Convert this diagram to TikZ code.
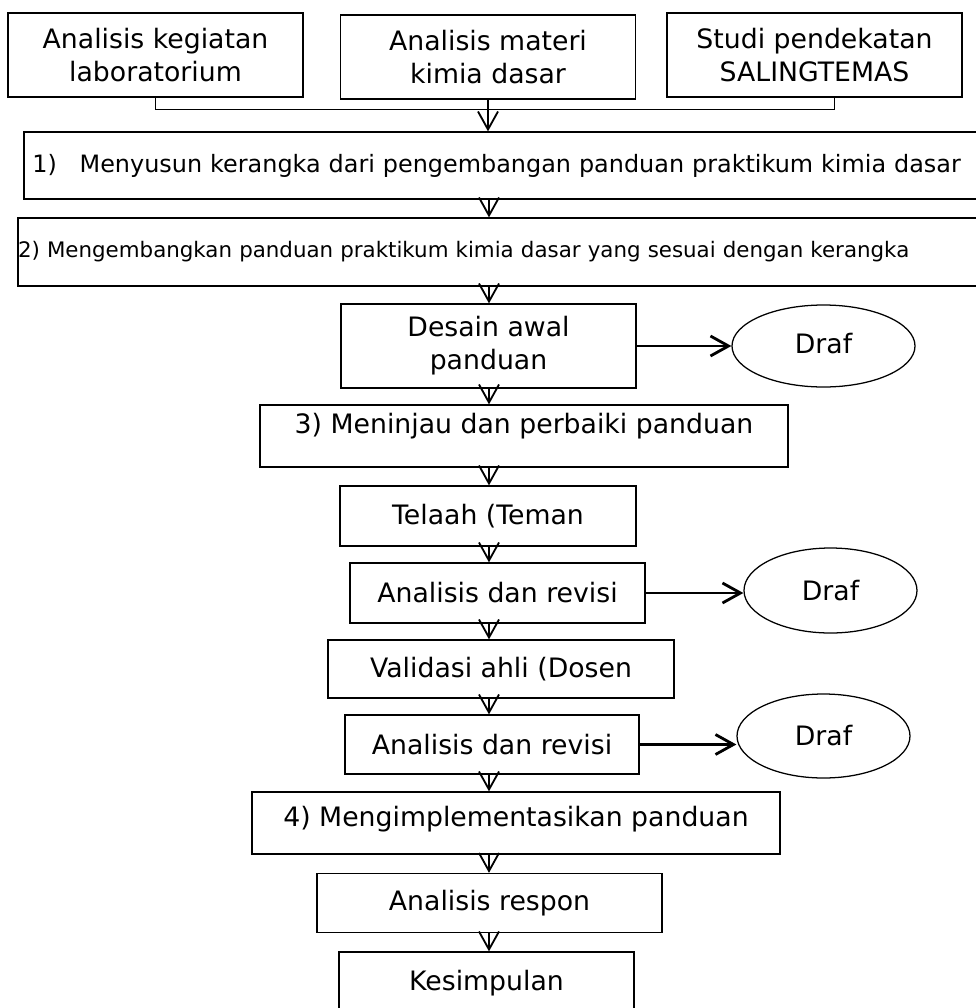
\documentclass[tikz,border=0pt]{standalone}
\usepackage{fontspec}
\setmainfont{DejaVu Sans}
\usetikzlibrary{shapes.geometric,arrows.meta}

\begin{document}
\begin{tikzpicture}[node distance=2cm]

% definitions
\tikzstyle{prep} = [rectangle, minimum width=7.375cm, minimum height=2.1cm, text centered, align=center, draw=black, line width=0.9pt, font=\fontsize{19}{23.4}\selectfont]

\tikzstyle{stage} = [rectangle, minimum width=7.375cm, minimum height=1.5cm, text centered, draw=black, line width=0.9pt, font=\fontsize{19}{23.4}\selectfont]

\tikzstyle{phase} = [rectangle, minimum width=13.2cm, minimum height=1.55cm, inner ysep=0pt, text centered, draw=black, line width=0.9pt, font=\fontsize{19}{23.4}\selectfont]

\tikzstyle{task} = [rectangle, minimum width=24.25cm, text width=23.825cm, minimum height=1.675cm, inner xsep=0.2125cm, align=left, draw=black, line width=0.9pt]

\tikzstyle{draft} = [ellipse, minimum width=4.325cm, minimum height=2.1cm, inner sep=0pt, draw=black, line width=0.9pt, font=\fontsize{19}{23.4}\selectfont]

\tikzstyle{arrow} = [-{Straight Barb[length=0.45cm, width=0.5cm]}, line width=1.3pt]

\tikzstyle{thick arrow} = [arrow, line width=2pt]

\tikzstyle{line} = [line width=0.8pt]

\useasboundingbox (0,0) rectangle (24.4,-25.2);
\clip (0,0) rectangle (24.4,-25.2);

% the graph
\node (a2) [prep] at (12.2,-1.425) {Analisis materi\\kimia dasar};

\node (a1) [prep, left of=a2, xshift=-6.3125cm, yshift=0.05cm] {Analisis kegiatan\\laboratorium};

\node (a3) [prep, right of=a2, xshift=6.1625cm, yshift=0.05cm] {Studi pendekatan\\SALINGTEMAS};

\coordinate (join) at ([yshift=-0.25cm]a2.south);

\node (s1) [task, below of=a2, yshift=-0.7125cm, xshift=0.525cm, font=\fontsize{17}{20}\selectfont] {\makebox[1.18cm][l]{1)}Menyusun kerangka dari pengembangan panduan praktikum kimia dasar};

\node (s2) [task, below of=s1, yshift=-0.1625cm, xshift=-0.075cm, minimum width=24.4cm, text width=24.4cm, inner xsep=0pt, minimum height=1.7cm, font=\fontsize{15.2}{18}\selectfont] {2) Mengembangkan panduan praktikum kimia dasar yang sesuai dengan kerangka};

\node (d1) [prep, below of=s2, yshift=-0.35cm, xshift=-0.4375cm] {Desain awal\\panduan};

\node (e1) [draft, right of=d1, xshift=6.375cm, minimum width=4.575cm, minimum height=2.05cm, text height=0.65cm, text depth=0.3cm] {Draf};

\node (s3) [phase, below of=d1, yshift=-0.25cm, xshift=0.8875cm, text height=0.7cm, text depth=0.85cm] {3) Meninjau dan perbaiki panduan};

\node (t1) [stage, below of=s3, xshift=-0.9cm, minimum width=7.4cm] {Telaah (Teman};

\node (r1) [stage, below of=t1, yshift=0.075cm, xshift=0.2375cm] {Analisis dan revisi};

\node (e2) [draft, right of=r1, xshift=6.325cm, yshift=0.0625cm, minimum height=2.125cm] {Draf};

\node (v1) [stage, below of=r1, yshift=0.1cm, xshift=0.0875cm, minimum width=8.65cm, minimum height=1.45cm] {Validasi ahli (Dosen};

\node (r2) [stage, below of=v1, yshift=0.1125cm, xshift=-0.225cm, minimum width=7.35cm, minimum height=1.475cm] {Analisis dan revisi};

\node (e3) [draft, right of=r2, xshift=6.2875cm, yshift=0.2125cm] {Draf};

\node (s4) [phase, below of=r2, yshift=0.0375cm, xshift=0.6cm, text height=0.85cm, text depth=0.7cm] {4) Mengimplementasikan panduan};

\node (p1) [stage, below of=s4, xshift=-0.6625cm, minimum width=8.625cm, minimum height=1.475cm] {Analisis respon};

\node (k1) [stage, below of=p1, xshift=-0.075cm, minimum height=1.55cm] {Kesimpulan};

\coordinate (spine) at (12.225,0);

\draw [line] (a1.south) |- (join) -| ([xshift=0.5cm]a3.south);
\draw [arrow] (a2.south) -- (a2.south |- s1.north);
\draw [arrow] (spine |- s1.south) -- (spine |- s2.north);
\draw [arrow] (spine |- s2.south) -- (spine |- d1.north);
\draw [thick arrow] (d1.east) -- (d1.east -| e1.west);
\draw [arrow] (spine |- d1.south) -- (spine |- s3.north);
\draw [arrow] (spine |- s3.south) -- (spine |- t1.north);
\draw [arrow] (spine |- t1.south) -- (spine |- r1.north);
\draw [thick arrow] (r1.east) -- (r1.east -| e2.west);
\draw [arrow] (spine |- r1.south) -- (spine |- v1.north);
\draw [arrow] (spine |- v1.south) -- (spine |- r2.north);
\draw [thick arrow] (r2.east) -- (r2.east -| e3.west);
\draw [arrow] (spine |- r2.south) -- (spine |- s4.north);
\draw [arrow] (spine |- s4.south) -- (spine |- p1.north);
\draw [arrow] (spine |- p1.south) -- (spine |- k1.north);

\end{tikzpicture}
\end{document}
